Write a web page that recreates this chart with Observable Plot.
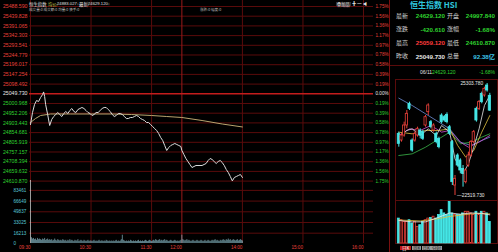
<!DOCTYPE html>
<html><head><meta charset="utf-8">
<script src="https://cdn.jsdelivr.net/npm/d3@7"></script>
<script src="https://cdn.jsdelivr.net/npm/@observablehq/plot@0.6"></script>
<style>
html,body{margin:0;padding:0;background:#000;}
#wrap{position:relative;width:498px;height:252px;background:#000;overflow:hidden;font-family:"Liberation Sans","Noto Sans CJK SC",sans-serif;}
#wrap svg{position:absolute;}
.t{position:absolute;white-space:nowrap;line-height:1;font-size:6px;}
.cj{font-family:"Noto Sans CJK SC",sans-serif;}
</style></head><body><div id="wrap"></div>
<script>
// ---------- intraday data ----------
const prevClose = 25049.730;
const priceTickLabels = ["25488.590","25439.828","25391.065","25342.303","25293.541","25244.779","25196.017","25147.254","25098.492","25049.730","25000.968","24952.206","24903.443","24854.681","24805.919","24757.157","24708.394","24659.632","24610.870"];
const pctTickLabels = ["1.75%","1.56%","1.36%","1.17%","0.97%","0.78%","0.58%","0.39%","0.19%","0.00%","0.19%","0.39%","0.58%","0.78%","0.97%","1.17%","1.36%","1.56%","1.75%"];
const volTickLabels = ["83461","66649","49837","33025","16213","0"];
const volTickValues = [83.461,66.649,49.837,33.025,16.213,0];
const timeLabels = ["09:30","10:30","11:30","12:00","14:00","15:00","16:00"];
const timeMinutes = [0,60,120,150,210,270,330];

const minutes = [0,2,4,6,8,10,12,13,14,15,17,19,21,23,25,27,29,31,33,35,37,39,41,43,45,47,49,51,53,55,57,59,61,63,65,67,69,71,73,75,77,79,81,83,85,87,89,91,93,95,97,99,101,103,105,107,109,111,113,115,117,119,121,123,125,127,129,131,133,135,137,139,141,143,145,147,149,150,152,154,156,158,160,162,164,166,168,170,172,174,176,178,180,182,184,186,188,190,192,194,196,198,200,202,204,206,208,210];
const prices = [24895.4,24955.7,24995.9,25016.0,25011.0,25031.1,25046.2,25059.1,25036.1,24995.9,24945.6,24890.3,24920.5,24935.6,24945.6,24955.7,24945.6,24935.6,24950.7,24960.7,24950.7,24965.8,24975.8,24960.7,24955.7,24970.8,24975.8,24980.9,24975.8,24965.8,24955.7,24950.7,24940.6,24945.6,24955.7,24955.7,24965.8,24975.8,24980.9,24980.9,24970.8,24960.7,24945.6,24935.6,24940.6,24950.7,24950.7,24945.6,24935.6,24925.5,24925.5,24930.6,24930.6,24935.6,24940.6,24935.6,24925.5,24920.5,24915.5,24905.4,24905.4,24895.4,24885.3,24875.3,24865.2,24850.1,24830.0,24814.9,24789.8,24764.7,24779.7,24789.8,24794.8,24799.9,24794.8,24789.8,24784.8,24764.7,24744.6,24724.5,24709.4,24694.3,24679.2,24684.2,24689.3,24689.3,24689.3,24689.3,24694.3,24699.3,24714.4,24724.5,24719.4,24709.4,24699.3,24709.4,24714.4,24704.3,24689.3,24669.2,24654.1,24634.0,24612.0,24628.9,24634.0,24639.0,24644.0,24629.1];
const avgMinutes = [0,5,10,20,40,60,80,100,120,135,150,170,190,210];
const avgPrices = [24905.4,24925.5,24940.6,24948.2,24948.2,24948.2,24948.2,24945.6,24940.6,24935.6,24930.6,24915.5,24897.9,24883.0];
// per-minute volume (thousands), 09:30 onwards
const volK = [100,9,7,8,6,7,5,8,6,7,6,5,7,6,8,5,6,7,5,6,5,6,4,5,7,5,4,6,5,4,5,4,6,5,4,5,3,5,4,6,4,5,4,3,5,4,4,6,3,4,5,4,3,5,4,3,4,5,3,4,4,3,4,5,3,4,3,4,5,3,4,4,3,4,3,5,4,3,4,3,4,3,4,3,4,5,3,4,3,4,6,13,5,4,3,4,3,4,3,5,4,3,4,3,4,3,4,5,3,4,3,4,3,4,5,4,3,4,5,4,3,4,5,4,6,5,4,5,6,4,5,4,5,6,4,5,4,3,4,5,4,3,4,5,4,3,4,3,4,5,13,6,5,4,5,6,4,5,4,3,4,5,4,3,4,5,4,3,4,5,4,3,4,5,3,4,5,4,3,4,5,4,5,6,4,5,4,3,5,4,5,6,5,4,6,5,7,5,6,4,5,6,5,4,5,6,4,5,6,5,4];

// ---------- daily K data ----------
const kOpen  = [24053,23887,24011,24260,24799,23887,23887,24011,24136,24094,24260,24591,24343,24136,24053,23928,24508,24467,24525,24218,23846,22768,23514,23390,23182,22851,23265,23514,23846,24674,24674,25047,25006,25254,24997.84];
const kHigh  = [24094,24053,24343,24633,24840,23928,24094,24218,24177,24136,24508,24799,24384,24301,24094,23970,24550,24508,24575,24260,23887,23017,23555,23431,23265,23182,23597,23887,24136,24716,24881,25089,25213,25303.78,25059.12];
const kLow   = [23721,23846,23970,24177,24633,23597,23846,23970,23928,23887,24218,24508,24177,24094,23804,23680,24301,24343,24301,24011,22768,22519.73,23224,23058,22727,22809,23224,23473,23804,24343,24633,24799,24964,25089,24610.87];
const kClose = [23804,24011,24260,24550,24674,23638,24053,24177,24011,23928,24467,24757,24218,24260,23846,23721,24343,24384,24343,24053,22851,22934,23265,23141,23058,23141,23514,23846,24094,24384,24840,24840,25171,25130,24629.12];
const kVol   = [106,99,92,92,99,85,92,71,78,92,99,106,109,114,106,121,142,128,121,177,128,121,121,121,128,135,135,128,121,135,121,135,135,128,92];
const ma5  = [[0,23970],[3,24136],[5,24177],[8,24011],[11,24177],[14,24011],[16,24260],[19,24094],[21,23431],[24,23058],[26,23307],[28,23721],[30,24177],[32,24757],[34,25006]];
const ma10 = [[0,24094],[5,24053],[10,24136],[15,24136],[19,24177],[22,23763],[25,23473],[28,23638],[31,24094],[34,24508]];
const ma20 = [[0,24011],[4,24177],[8,24136],[12,24260],[16,24094],[19,24136],[23,23846],[26,23721],[30,23846],[34,24011]];
const ma60 = [[0,23514],[5,23555],[10,23721],[15,23928],[19,24094],[23,23804],[27,23846],[31,23970],[34,24053]];
const ma120 = [[0,24939],[5,24757],[10,24550],[15,24343],[19,24177],[23,23846],[27,23763],[31,23887],[34,23970]];
const volMa5 = [[0,98],[5,92],[10,92],[15,112],[19,130],[23,125],[27,130],[31,128],[34,122]];
const volMa10 = [[0,100],[8,96],[14,104],[19,115],[24,122],[29,128],[34,126]];

// ---------- info panel ----------
const infoLabels = [["最新","开盘"],["涨跌","涨幅"],["最高","最低"],["昨收","总量"]];
const infoValues = [["24629.120","24997.840"],["-420.610","-1.68%"],["25059.120","24610.870"],["25049.730","92.38亿"]];
const infoColors = [["#2fd22f","#2fd22f"],["#2fd22f","#2fd22f"],["#ff3b3b","#2fd22f"],["#e6e6e6","#3ec6e8"]];

const RED="#e8403a", GREEN="#2fd22f", GRID="#5a0b0b", WHITE="#e8e8e8", CYAN="#45e6e6";
const wrap = document.getElementById("wrap");
const place = (node, left, top) => { node.style.left = left+"px"; node.style.top = top+"px"; wrap.appendChild(node); };
const tickColor = v => v > prevClose + 0.01 ? RED : v < prevClose - 0.01 ? GREEN : WHITE;
const priceTicks = priceTickLabels.map(Number);
const priceData = minutes.map((t,i)=>({t, p: prices[i]}));
const avgData = avgMinutes.map((t,i)=>({t, p: avgPrices[i]}));
const volData = volK.map((v,t)=>({t, v}));
const baseStyle = {background:"transparent", fontFamily:"Liberation Sans, sans-serif", fontSize:"5.2px", overflow:"visible"};

// price panel
place(Plot.plot({
  width:388, height:182, marginLeft:29, marginRight:15, marginTop:0, marginBottom:1,
  x:{domain:[0,330], range:[30,363], axis:null},
  y:{domain:[24610.870,25488.590], range:[180.6,6], axis:null},
  color:{type:"identity"},
  style: baseStyle,
  marks:[
    Plot.ruleY(priceTicks.filter(v=>Math.abs(v-prevClose)>0.01), {stroke:GRID}),
    Plot.ruleX(timeMinutes, {x:d=>d, stroke:d=> d===150 ? "#9a1a1a" : GRID}),
    Plot.ruleX([0], {frameAnchor:"right", stroke:GRID}),
    Plot.ruleY([prevClose], {stroke:"#c41c1c", strokeWidth:1.6}),
    Plot.line(avgData, {x:"t", y:"p", stroke:"#b8a46e", strokeWidth:1}),
    Plot.line(priceData, {x:"t", y:"p", stroke:"#dcdcdc", strokeWidth:1}),
    Plot.text(priceTicks, {y:d=>d, text:(d,i)=>priceTickLabels[i], frameAnchor:"left", textAnchor:"end", dx:-2, fill:tickColor}),
    Plot.text(priceTicks, {y:d=>d, text:(d,i)=>pctTickLabels[i], frameAnchor:"right", textAnchor:"start", dx:2, fill:tickColor, fontSize:4.6})
  ]
}), 0, 0);

// volume panel
place(Plot.plot({
  width:388, height:72, marginLeft:29, marginRight:15, marginTop:0, marginBottom:9,
  x:{domain:[0,330], range:[30,363], axis:null},
  y:{domain:[0,99], range:[63,0], axis:null},
  color:{type:"identity"},
  style: baseStyle,
  marks:[
    Plot.ruleY(volTickValues.filter(v=>v>0), {y:d=>d, stroke:GRID}),
    Plot.ruleX(timeMinutes.slice(1), {x:d=>d, stroke:d=> d===150 ? "#9a1a1a" : GRID}),
    Plot.ruleX(volData, {x:"t", y1:0, y2:"v", stroke:d=> d.t===0 ? "#e0e0e0" : "#86b9c6", strokeWidth:0.7, clip:true}),
    Plot.text(volTickValues, {y:d=>d, text:(d,i)=>volTickLabels[i], frameAnchor:"left", textAnchor:"start", dx:-16, fill:"#58c6d6", fontSize:4.6}),
    Plot.text(timeMinutes, {x:d=>d, text:(d,i)=>timeLabels[i], frameAnchor:"bottom", textAnchor:"end", dy:5, fill:RED, fontSize:4.6})
  ]
}), 0, 180);

// daily K chart
const kData = kOpen.map((o,i)=>({i, o, h:kHigh[i], l:kLow[i], c:kClose[i], v:kVol[i], up: kClose[i] >= o}));
const maLine = (arr, color) => Plot.line(arr, {x:d=>d[0], y:d=>d[1], stroke:color, strokeWidth:0.8});
const peak = kData.reduce((a,b)=> b.h>a.h?b:a);
const low = kData.reduce((a,b)=> b.l<a.l?b:a);
place(Plot.plot({
  width:110, height:252, marginLeft:7, marginRight:1, marginTop:79, marginBottom:52,
  x:{domain:[0,34], range:[10.3,101.3], axis:null},
  y:{domain:[22519.73,25303.78], range:[195,83], axis:null},
  color:{type:"identity"},
  style: baseStyle,
  marks:[
    Plot.frame({stroke:GRID}),
    maLine(ma120, "#6f8fd8"),
    maLine(ma60, "#3bb84a"),
    maLine(ma20, "#d04fd0"),
    maLine(ma10, "#e0c040"),
    maLine(ma5, "#e8e8e8"),
    Plot.ruleX(kData, {x:"i", y1:"l", y2:"h", stroke:d=>d.up?RED:CYAN}),
    Plot.rect(kData, {x1:d=>d.i-0.4, x2:d=>d.i+0.4, y1:"o", y2:"c", fill:d=>d.up?"#000":CYAN, stroke:d=>d.up?RED:CYAN, strokeWidth:0.8}),
    Plot.text([peak], {x:"i", y:"h", text:d=>d.h.toFixed(3), textAnchor:"end", dx:-4, fill:WHITE, fontSize:4.8}),
    Plot.text([low], {x:"i", y:"l", text:d=>"—"+d.l.toFixed(3), textAnchor:"start", dx:2, fill:WHITE, fontSize:4.8})
  ]
}), 388, 0);

// daily volume
place(Plot.plot({
  width:110, height:252, marginLeft:7, marginRight:1, marginTop:200, marginBottom:9,
  x:{domain:[0,34], range:[10.3,101.3], axis:null},
  y:{domain:[0,180], range:[243,200.7], axis:null},
  color:{type:"identity"},
  style: baseStyle,
  marks:[
    Plot.frame({stroke:GRID}),
    Plot.rectY(kData, {x1:d=>d.i-0.36, x2:d=>d.i+0.36, y:"v", fill:d=>d.up?"#000":CYAN, stroke:d=>d.up?RED:CYAN, strokeWidth:0.8}),
    maLine(volMa10, "#e0c040"),
    maLine(volMa5, "#e8e8e8")
  ]
}), 388, 0);

// ---------- text overlays ----------
function txt(s, left, top, color, size, extra) {
  const d = document.createElement("div"); d.className = "t" + (extra ? " " + extra : "");
  d.textContent = s; d.style.color = color; if (size) d.style.fontSize = size + "px";
  place(d, left, top); return d;
}
// header of intraday chart
txt("恒生指数", 29, 1.5, "#e0e0e0", 4.4, "cj");
txt("均价:", 48, 1.5, "#c8c84a", 4.4, "cj");
txt("24883.027↓", 57, 1.8, "#e0e0e0", 4.2);
txt("最新:", 79, 1.5, "#e0e0e0", 4.4, "cj");
txt("24629.120↓", 88, 1.8, "#e0e0e0", 4.2);
txt("成交量:0  成交额:0  均量:0  换手:0", 29, 7.5, "#bbbbbb", 3.6, "cj");
txt("涨跌:0  幅度:0", 200, 7.5, "#bbbbbb", 3.6, "cj");
const ov = txt("叠加品", 336, 1.5, "#e0e0e0", 4.2, "cj"); ov.style.background = "#333"; ov.style.padding = "0 1px";
txt("✚ ━ ◀", 352, 1.5, "#e0e0e0", 4.2);

// info panel
const sep = document.createElement("div");
sep.style.cssText = "position:absolute;left:389px;top:0;width:1px;height:252px;background:#7a1010;";
wrap.appendChild(sep);
const hl = document.createElement("div");
hl.style.cssText = "position:absolute;left:390px;top:65px;width:108px;height:1px;background:#5a0b0b;";
wrap.appendChild(hl);
const t1 = txt("恒生指数 HSI", 410, 1, "#2ec6dc", 8, "cj"); t1.style.fontWeight = "bold";
infoLabels.forEach((row, r) => {
  const y = 12.5 + r * 13.5;
  txt(row[0], 396, y, "#cfcfcf", 6, "cj");
  txt(row[1], 447, y, "#cfcfcf", 6, "cj");
  const v1 = txt(infoValues[r][0], 0, y + 0.5, infoColors[r][0], 6.2); v1.style.left = "auto"; v1.style.right = (498 - 445) + "px";
  const v2 = txt(infoValues[r][1], 0, y + 0.5, infoColors[r][1], 6.2); v2.style.left = "auto"; v2.style.right = "3px";
  v1.style.fontWeight = "bold"; v2.style.fontWeight = "bold";
});
txt("06/11", 420, 70, "#e0e0e0", 5);
txt("24629.120", 432, 70, GREEN, 5);
const pc = txt("-1.68%", 0, 70, GREEN, 5); pc.style.left = "auto"; pc.style.right = "3px";

// bottom buttons
const b1 = txt("日K", 400, 245.5, "#fff", 4.5, "cj"); b1.style.background = "#c01818"; b1.style.padding = "0 2px";
["周K","月K","分时"].forEach((s,i)=>{ const b = txt(s, 412 + i*9.5, 245.5, "#222", 4.5, "cj"); b.style.background = "#999"; b.style.padding = "0 1px"; });
</script></body></html>
